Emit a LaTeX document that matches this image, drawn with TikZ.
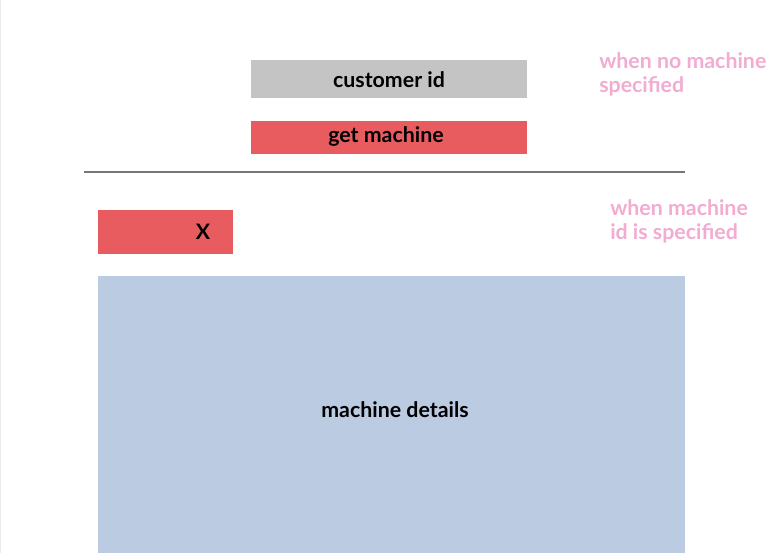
\documentclass[tikz,border=0pt]{standalone}
\usepackage{fontspec}
\setmainfont{Lato}
\definecolor{boxgray}{HTML}{C4C4C4}
\definecolor{boxred}{HTML}{E85C5F}
\definecolor{boxblue}{HTML}{BBCBE2}
\definecolor{notepink}{HTML}{F3ACD1}
\definecolor{rulegray}{HTML}{777777}
\definecolor{edgegray}{HTML}{EBEBEB}
\begin{document}
\begin{tikzpicture}[x=0.75pt,y=-0.75pt,
  box/.style={draw=none,inner sep=0pt,font=\fontsize{16}{19}\selectfont\bfseries,text=black},
  note/.style={anchor=north west,align=left,inner sep=0pt,text=notepink,font=\fontsize{16}{18}\selectfont\bfseries}]
\useasboundingbox (0,0) rectangle (784,553);
\fill[white] (0,0) rectangle (784,553);
\draw[edgegray,line width=1pt] (0.5,0) -- (0.5,553);
% boxes
\fill[boxgray] (251,60) rectangle (527,98);
\node[box] (cust) at (389,80) {customer id};
\fill[boxred] (251,121) rectangle (527,154);
\node[box] (getm) at (386,136) {get machine};
\draw[rulegray,line width=0.9pt] (84,172) -- (685,172);
\fill[boxred] (98,210) rectangle (233,254);
\node[box] (x) at (203,232) {X};
\fill[boxblue] (98,276) rectangle (685,553);
\node[box] (det) at (395,410) {machine details};
% notes
\node[note] (n1) at (599,52) {when no machine\\specified};
\node[note] (n2) at (610,199) {when machine\\id is specified};
\end{tikzpicture}
\end{document}
